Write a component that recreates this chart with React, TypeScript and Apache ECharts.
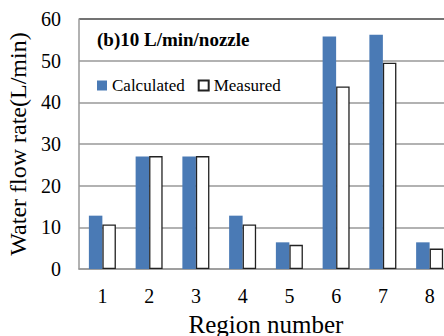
import React, { useEffect, useRef } from "react";
import * as echarts from "echarts";

const categories = ["1", "2", "3", "4", "5", "6", "7", "8"];
const calculated = [12.8, 27, 27, 12.8, 6.4, 55.8, 56.2, 6.4];
const measured = [10.7, 27.1, 27.1, 10.7, 5.8, 43.8, 49.5, 4.9];
const titleText = "(b)10 L/min/nozzle";
const seriesNames = ["Calculated", "Measured"];

const FONT = "Liberation Serif";

export default function App() {
  const ref = useRef<HTMLDivElement>(null);
  useEffect(() => {
    if (!ref.current) return;
    const chart = echarts.init(ref.current, undefined, { renderer: "svg" });
    chart.setOption({
      animation: false,
      backgroundColor: "#ffffff",
      textStyle: { fontFamily: FONT, color: "#000" },
      title: {
        text: titleText,
        left: 92,
        top: 25,
        textStyle: { fontFamily: FONT, fontSize: 19, fontWeight: "bold", color: "#000" },
      },
      legend: {
        left: 92,
        top: 72,
        icon: "rect",
        itemWidth: 10,
        itemHeight: 10,
        itemGap: 13,
        textStyle: { fontFamily: FONT, fontSize: 17, color: "#000" },
        data: seriesNames,
      },
      grid: { left: 79, top: 19, bottom: 67, right: -9, outerBoundsMode: "none", containLabel: false },
      xAxis: {
        type: "category",
        data: categories,
        name: "Region number",
        nameLocation: "middle",
        nameGap: 43,
        nameTextStyle: { fontFamily: FONT, fontSize: 25, color: "#000" },
        axisLine: { lineStyle: { color: "#999", width: 1.5 } },
        axisTick: { show: false },
        axisLabel: { fontFamily: FONT, fontSize: 20, color: "#000", margin: 17 },
      },
      yAxis: {
        type: "value",
        min: 0,
        max: 60,
        interval: 10,
        name: "Water flow rate(L/min)",
        nameLocation: "middle",
        nameGap: 47,
        nameTextStyle: { fontFamily: FONT, fontSize: 24, color: "#000" },
        axisLine: { show: true, lineStyle: { color: "#999", width: 1.5 } },
        axisTick: { show: false },
        axisLabel: { fontFamily: FONT, fontSize: 20, color: "#000", margin: 18 },
        splitLine: {
          lineStyle: {
            color: ["#999", "#999", "#999", "#999", "#999", "#999", "#444"],
            width: 1.5,
          },
        },
      },
      series: [
        {
          name: seriesNames[0],
          type: "bar",
          data: calculated,
          barWidth: 13.5,
          barGap: "0%",
          itemStyle: { color: "#4A7AB5" },
        },
        {
          name: seriesNames[1],
          type: "bar",
          data: measured,
          barWidth: 13.5,
          barGap: "0%",
          itemStyle: { color: "#ffffff", borderColor: "#222", borderWidth: 1.3 },
        },
      ],
    });
    return () => chart.dispose();
  }, []);
  return (
    <div
      ref={ref}
      style={{ position: "fixed", left: 0, top: 0, width: 444, height: 336, background: "#fff" }}
    />
  );
}
